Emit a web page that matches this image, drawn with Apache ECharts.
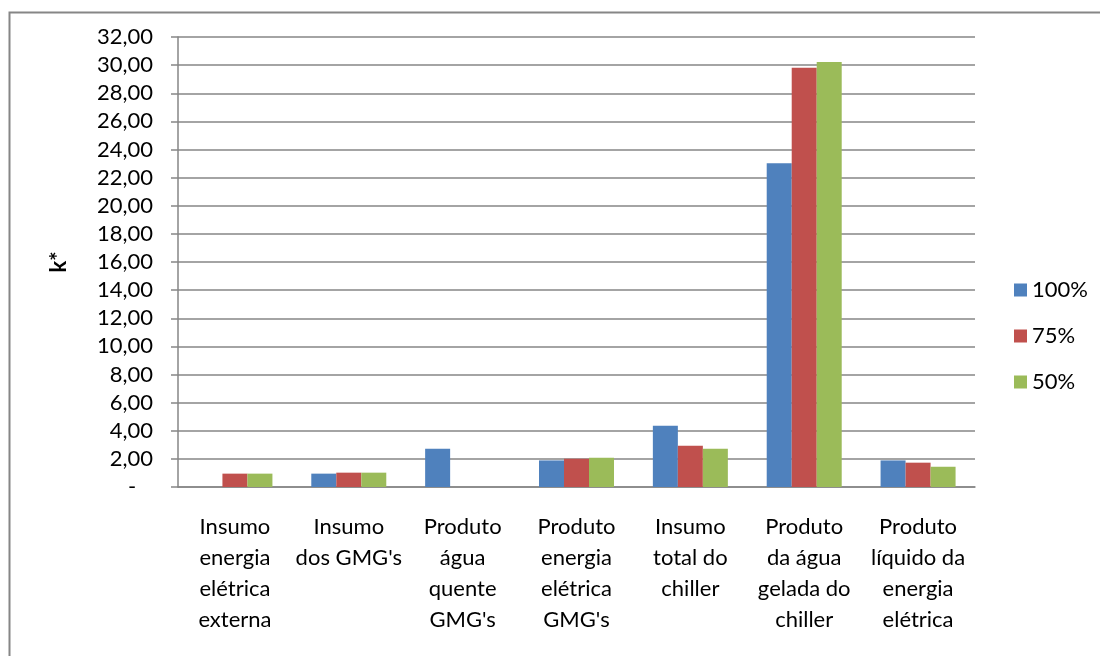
<!DOCTYPE html>
<html>
<head>
<meta charset="utf-8">
<script src="https://cdn.jsdelivr.net/npm/echarts@6/dist/echarts.min.js"></script>
<style>html,body{margin:0;padding:0;background:#fff}#c{width:1100px;height:656px}</style>
</head>
<body>
<div id="c"></div>
<script>
const categories = [
  "Insumo\nenergia\nelétrica\nexterna",
  "Insumo\ndos GMG's",
  "Produto\nágua\nquente\nGMG's",
  "Produto\nenergia\nelétrica\nGMG's",
  "Insumo\ntotal do\nchiller",
  "Produto\nda água\ngelada do\nchiller",
  "Produto\nlíquido da\nenergia\nelétrica"
];
const seriesNames = ["100%", "75%", "50%"];
const values100 = [0, 0.95, 2.72, 1.89, 4.36, 23.03, 1.89];
const values75 = [0.95, 1.02, 0, 2.01, 2.94, 29.81, 1.73];
const values50 = [0.95, 1.02, 0, 2.08, 2.72, 30.23, 1.44];
const colors = ["#4F81BD", "#C0504D", "#9BBB59"];
const yAxisName = "k*";

const FONT = "Lato";
const chart = echarts.init(document.getElementById('c'), null, {renderer: 'canvas'});
const mk = (name, data, i) => ({
  name, type: 'bar', data, barWidth: 25, barGap: '0%',
  itemStyle: {color: colors[i]}, emphasis: {disabled: true}
});
chart.setOption({
  animation: false,
  textStyle: {fontFamily: FONT, color: '#000'},
  graphic: [{
    type: 'rect', left: 7, top: 10, silent: true,
    shape: {width: 1200, height: 800},
    style: {fill: 'none', stroke: '#868686', lineWidth: 2}
  }],
  grid: {left: 178, right: 125, top: 37, bottom: 169, containLabel: false},
  legend: {
    orient: 'vertical', left: 1014, top: 279, padding: 0,
    itemWidth: 13, itemHeight: 13, itemGap: 24, icon: 'rect',
    textStyle: {fontFamily: FONT, fontSize: 22, color: '#000', padding: [0, 0, 0, 0]},
    data: seriesNames
  },
  xAxis: {
    type: 'category', data: categories,
    axisLine: {lineStyle: {color: '#868686', width: 1.5}},
    axisTick: {length: 10, lineStyle: {color: '#868686', width: 1.5},
      interval: function (idx) { return idx !== 1; }},
    axisLabel: {interval: 0, margin: 24, fontFamily: FONT, fontSize: 22, lineHeight: 31, color: '#000', align: 'center'}
  },
  yAxis: {
    type: 'value', min: 0, max: 32, interval: 2,
    name: yAxisName, nameLocation: 'middle', nameGap: 108, nameRotate: 90,
    nameTextStyle: {fontFamily: FONT, fontSize: 22, fontWeight: 'bold', color: '#000'},
    axisLine: {show: true, lineStyle: {color: '#868686', width: 1.5}},
    axisTick: {show: true, length: 7, lineStyle: {color: '#868686', width: 1.5}},
    axisLabel: {margin: 25, fontFamily: FONT, fontSize: 22, color: '#000',
      formatter: v => v === 0 ? '-   ' : v.toFixed(2).replace('.', ',')},
    splitLine: {lineStyle: {color: '#868686', width: 1.5}}
  },
  series: [mk(seriesNames[0], values100, 0), mk(seriesNames[1], values75, 1), mk(seriesNames[2], values50, 2)]
});
</script>
</body>
</html>
